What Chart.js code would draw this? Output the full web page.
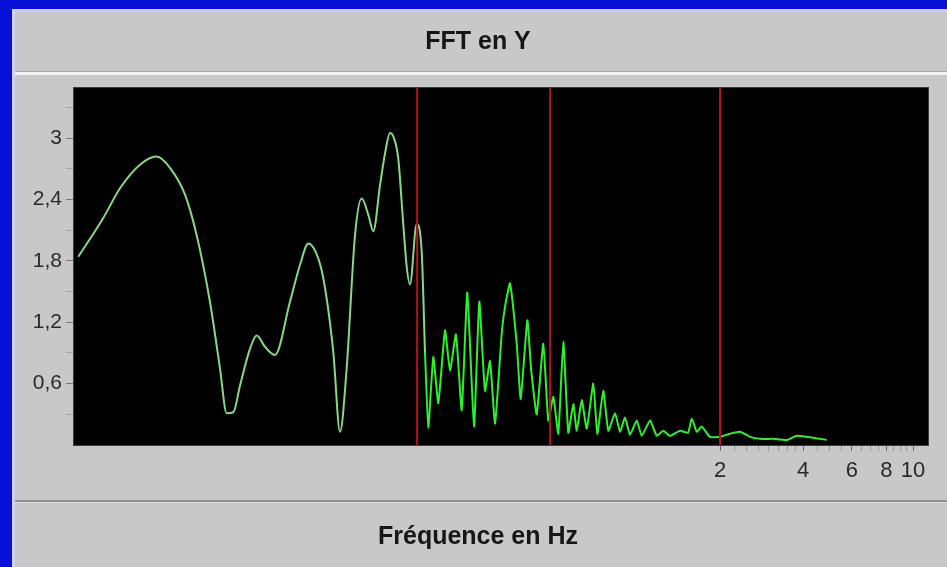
<!DOCTYPE html>
<html>
<head>
<meta charset="utf-8">
<script src="https://cdn.jsdelivr.net/npm/chart.js@4.4.1/dist/chart.umd.min.js"></script>
<style>
html,body{margin:0;padding:0;background:#c8c8c8;overflow:hidden}
#wrap{position:relative;width:947px;height:567px}
canvas{display:block}
</style>
</head>
<body>
<div id="wrap"><canvas id="c" width="947" height="567"></canvas></div>
<script>
// ---- data ----
const freqHz = [
  0.00948, 0.01168, 0.01343, 0.01586, 0.01823, 0.02037, 0.02308, 0.02545, 0.02843, 0.03091,
  0.03269, 0.03454, 0.03652, 0.03970, 0.04198, 0.04499, 0.04889, 0.05541, 0.06023, 0.06457,
  0.06884, 0.07317, 0.07951, 0.08409, 0.08890, 0.09529, 0.1008, 0.1065, 0.1110, 0.1174,
  0.1224, 0.1276, 0.1319, 0.1367, 0.1426, 0.1467, 0.1507, 0.1594, 0.1662, 0.1708,
  0.1756, 0.1831, 0.1909, 0.2019, 0.2104, 0.2212, 0.2320, 0.2431, 0.2571, 0.2687,
  0.2817, 0.2938, 0.3063, 0.3239, 0.3329, 0.3471, 0.3671, 0.3795, 0.4010, 0.4136,
  0.4336, 0.4582, 0.4776, 0.4980, 0.5192, 0.5414, 0.5644, 0.5885, 0.6054, 0.6313,
  0.6581, 0.6952, 0.7188, 0.7556, 0.7879, 0.8332, 0.8686, 0.9057, 0.9441, 0.9985,
  1.041, 1.116, 1.180, 1.246, 1.318, 1.433, 1.532, 1.580, 1.647, 1.717,
  1.840, 2.0, 2.174, 2.363, 2.569, 2.792, 3.112, 3.497, 3.792, 4.121,
  4.605, 4.871
];
const amplitude = [
  1.84, 2.22, 2.51, 2.74, 2.82, 2.71, 2.45, 2.05, 1.40, 0.75,
  0.31, 0.32, 0.58, 0.94, 1.07, 0.96, 0.88, 1.40, 1.76, 1.97,
  1.88, 1.63, 0.91, 0.13, 0.75, 2.05, 2.41, 2.25, 2.09, 2.54,
  2.85, 3.05, 3.00, 2.80, 2.15, 1.74, 1.57, 2.16, 1.89, 0.91,
  0.17, 0.86, 0.41, 1.12, 0.73, 1.08, 0.34, 1.49, 0.18, 1.40,
  0.53, 0.82, 0.21, 1.09, 1.35, 1.58, 0.99, 0.45, 1.22, 0.75,
  0.30, 0.99, 0.24, 0.47, 0.11, 1.01, 0.12, 0.40, 0.14, 0.44,
  0.16, 0.60, 0.11, 0.53, 0.14, 0.31, 0.13, 0.27, 0.10, 0.24,
  0.09, 0.24, 0.09, 0.14, 0.09, 0.14, 0.12, 0.26, 0.13, 0.18,
  0.08, 0.08, 0.11, 0.13, 0.08, 0.06, 0.06, 0.05, 0.09, 0.08,
  0.06, 0.05
];
const markerHz = [0.16, 0.485, 2];
const xRange = [0.00915, 11.33];
const yRange = [0, 3.49];
const xTickValues = [2, 2.25, 2.5, 2.75, 3, 3.25, 3.5, 3.75, 4, 4.5, 5, 5.5, 6, 6.5, 7, 7.5, 8, 8.5, 9, 9.5, 10];
const xLabelValues = [2, 4, 6, 8, 10];
const yTickValues = [0.3, 0.6, 0.9, 1.2, 1.5, 1.8, 2.1, 2.4, 2.7, 3.0, 3.3];
const yLabelValues = [0.6, 1.2, 1.8, 2.4, 3];
const chartTitle = 'FFT en Y';
const xAxisTitle = 'Fréquence en Hz';
// frequency above which the spectrum is drawn as a jagged (noisy) trace
const noisyFromHz = 0.17;

// ---- helpers ----
const near = (a, list) => list.some(v => Math.abs(v - a) < 1e-6);
const frNum = v => String(Number(v.toFixed(1))).replace('.', ',');
const FONT = "'Liberation Sans', Arial, sans-serif";

const panels = {
  id: 'panels',
  beforeDraw(chart) {
    const ctx = chart.ctx, W = chart.width, H = chart.height, a = chart.chartArea;
    ctx.save();
    ctx.fillStyle = '#c8c8c8'; ctx.fillRect(0, 0, W, H);
    ctx.fillStyle = '#0610d6'; ctx.fillRect(0, 0, W, 9); ctx.fillRect(0, 0, 12, H);
    ctx.fillStyle = '#d2d2ee'; ctx.fillRect(12, 9, W - 12, 3); ctx.fillRect(12, 9, 3, H - 9);
    ctx.fillStyle = '#a8a8a8'; ctx.fillRect(15, 71, W - 15, 1);
    ctx.fillStyle = '#f2f2f2'; ctx.fillRect(15, 72, W - 15, 3);
    ctx.fillStyle = '#8e8e8e'; ctx.fillRect(15, 500, W - 15, 2);
    ctx.fillStyle = '#dadada'; ctx.fillRect(15, 502, W - 15, 1);
    ctx.fillStyle = '#000000'; ctx.fillRect(a.left, a.top, a.right - a.left, a.bottom - a.top);
    ctx.restore();
  },
  afterDraw(chart) {
    const ctx = chart.ctx, a = chart.chartArea;
    ctx.save();
    ctx.strokeStyle = '#3c3c3c'; ctx.lineWidth = 1;
    ctx.strokeRect(a.left - 0.5, a.top - 0.5, a.right - a.left + 1, a.bottom - a.top + 1);
    ctx.restore();
  }
};

const points = freqHz.map((f, i) => ({x: f, y: amplitude[i]}));
const split = points.findIndex(p => p.x > noisyFromHz);
const smoothPart = points.slice(0, split + 1);
const noisyPart = points.slice(split);

const markerSets = markerHz.map(f => ({
  data: [{x: f, y: yRange[0]}, {x: f, y: yRange[1]}],
  borderColor: '#ac1420',
  borderWidth: 2,
  pointRadius: 0,
  tension: 0,
  order: 0
}));

new Chart(document.getElementById('c'), {
  type: 'line',
  data: {
    datasets: [
      {
        data: smoothPart,
        borderColor: '#86d886',
        borderWidth: 2,
        pointRadius: 0,
        cubicInterpolationMode: 'monotone',
        order: 1
      },
      {
        data: noisyPart,
        borderColor: '#2cf02c',
        borderWidth: 2,
        pointRadius: 0,
        tension: 0.15,
        order: 1
      },
      ...markerSets
    ]
  },
  options: {
    responsive: false,
    animation: false,
    events: [],
    layout: { padding: { left: 12, top: 12, right: 3, bottom: 0 } },
    plugins: {
      legend: { display: false },
      tooltip: { enabled: false },
      title: {
        display: true, text: chartTitle, color: '#161616',
        font: { family: FONT, size: 25, weight: 'bold', lineHeight: 1.2 },
        padding: { top: 15, bottom: 31 }
      },
      subtitle: {
        display: true, position: 'bottom', text: xAxisTitle, color: '#161616',
        font: { family: FONT, size: 25, weight: 'bold', lineHeight: 1.2 },
        padding: { top: 10, bottom: 15 }
      }
    },
    scales: {
      x: {
        type: 'logarithmic',
        min: xRange[0], max: xRange[1],
        afterBuildTicks: s => { s.ticks = xTickValues.map(v => ({ value: v })); },
        afterFit: s => { s.height = 67; },
        ticks: {
          autoSkip: false, maxRotation: 0, minRotation: 0, padding: 7,
          color: '#2a2a2a', font: { family: FONT, size: 22 },
          callback: v => near(v, xLabelValues) ? String(v) : ''
        },
        grid: {
          display: true, drawOnChartArea: false, drawTicks: true, tickLength: 6,
          tickColor: c => near(c.tick.value, xLabelValues) ? '#6a6a6a' : '#9a9a9a'
        },
        border: { display: false }
      },
      y: {
        min: yRange[0], max: yRange[1],
        afterBuildTicks: s => { s.ticks = yTickValues.map(v => ({ value: v })); },
        afterFit: s => { s.width = 62; },
        ticks: {
          padding: 4, color: '#2a2a2a', font: { family: FONT, size: 21 },
          callback: v => near(v, yLabelValues) ? frNum(v) : ''
        },
        grid: {
          display: true, drawOnChartArea: false, drawTicks: true, tickLength: 8,
          tickColor: c => near(c.tick.value, yLabelValues) ? '#7a7a7a' : '#a6a6a6'
        },
        border: { display: false }
      },
      yPad: {
        position: 'right', display: true,
        afterFit: s => { s.width = 16; },
        ticks: { display: false },
        grid: { display: false },
        border: { display: false }
      }
    }
  },
  plugins: [panels]
});
</script>
</body>
</html>
